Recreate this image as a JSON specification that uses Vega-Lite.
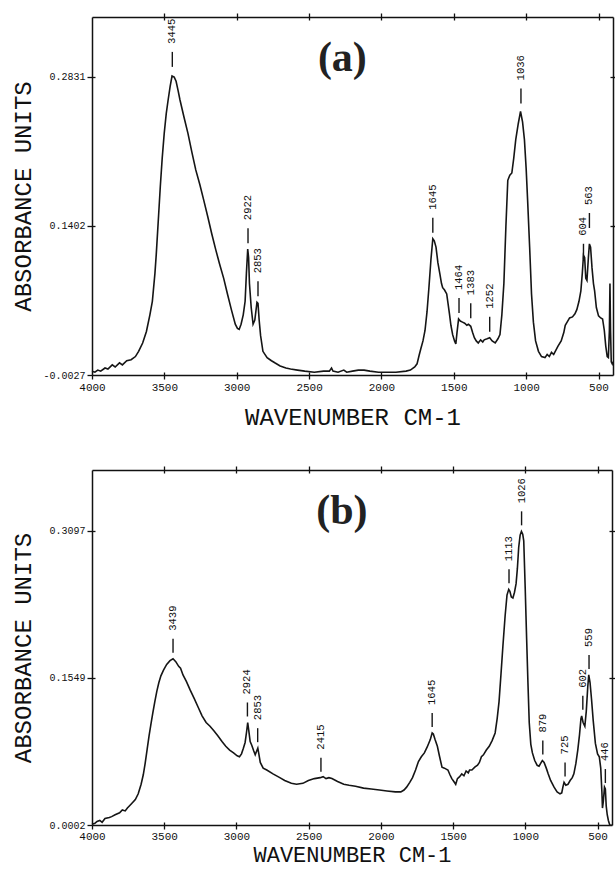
{
  "$schema": "https://vega.github.io/schema/vega-lite/v6.json",
  "background": "white",
  "padding": {"left": 11, "top": 12, "right": 4, "bottom": 2},
  "spacing": 95,
  "bounds": "flush",
  "config": {
    "view": {"stroke": null},
    "axis": {
      "grid": false,
      "domainColor": "#111",
      "domainWidth": 1.5,
      "tickColor": "#111",
      "tickWidth": 1.3,
      "labelFont": "Liberation Mono",
      "labelFontSize": 10,
      "labelColor": "#111",
      "labelFlush": false,
      "labelOverlap": false,
      "labelBound": false,
      "titleFont": "Liberation Mono",
      "titleFontSize": 24,
      "titleFontWeight": "normal",
      "titleColor": "#111"
    }
  },
  "datasets": {
    "specA": [
      {"wn":4000,"A":0.001},{"wn":3980,"A":0.000},{"wn":3960,"A":0.002},{"wn":3940,"A":0.001},{"wn":3910,"A":0.004},{"wn":3890,"A":0.003},{"wn":3860,"A":0.007},{"wn":3840,"A":0.005},{"wn":3810,"A":0.009},{"wn":3790,"A":0.007},{"wn":3760,"A":0.011},{"wn":3730,"A":0.012},{"wn":3700,"A":0.015},{"wn":3678,"A":0.020},{"wn":3650,"A":0.028},{"wn":3624,"A":0.039},{"wn":3600,"A":0.055},{"wn":3583,"A":0.068},{"wn":3565,"A":0.095},{"wn":3556,"A":0.113},{"wn":3540,"A":0.150},{"wn":3528,"A":0.178},{"wn":3515,"A":0.205},{"wn":3501,"A":0.229},{"wn":3487,"A":0.248},{"wn":3474,"A":0.261},{"wn":3460,"A":0.274},{"wn":3447,"A":0.284},{"wn":3432,"A":0.283},{"wn":3419,"A":0.279},{"wn":3405,"A":0.270},{"wn":3392,"A":0.261},{"wn":3365,"A":0.245},{"wn":3337,"A":0.229},{"wn":3310,"A":0.211},{"wn":3283,"A":0.194},{"wn":3255,"A":0.180},{"wn":3228,"A":0.165},{"wn":3200,"A":0.149},{"wn":3173,"A":0.133},{"wn":3146,"A":0.118},{"wn":3119,"A":0.104},{"wn":3090,"A":0.090},{"wn":3064,"A":0.075},{"wn":3037,"A":0.060},{"wn":3010,"A":0.046},{"wn":2995,"A":0.042},{"wn":2983,"A":0.041},{"wn":2970,"A":0.046},{"wn":2955,"A":0.055},{"wn":2942,"A":0.068},{"wn":2933,"A":0.095},{"wn":2924,"A":0.118},{"wn":2918,"A":0.110},{"wn":2912,"A":0.085},{"wn":2900,"A":0.062},{"wn":2887,"A":0.046},{"wn":2875,"A":0.050},{"wn":2860,"A":0.067},{"wn":2853,"A":0.066},{"wn":2845,"A":0.050},{"wn":2835,"A":0.035},{"wn":2819,"A":0.020},{"wn":2790,"A":0.014},{"wn":2760,"A":0.011},{"wn":2737,"A":0.009},{"wn":2700,"A":0.006},{"wn":2660,"A":0.004},{"wn":2628,"A":0.003},{"wn":2580,"A":0.002},{"wn":2530,"A":0.001},{"wn":2464,"A":0.000},{"wn":2400,"A":0.001},{"wn":2360,"A":0.001},{"wn":2345,"A":0.004},{"wn":2335,"A":0.001},{"wn":2300,"A":0.000},{"wn":2260,"A":0.002},{"wn":2240,"A":0.000},{"wn":2200,"A":0.001},{"wn":2160,"A":0.002},{"wn":2120,"A":0.002},{"wn":2080,"A":0.001},{"wn":2020,"A":0.000},{"wn":1973,"A":0.000},{"wn":1900,"A":0.000},{"wn":1830,"A":0.001},{"wn":1800,"A":0.002},{"wn":1770,"A":0.005},{"wn":1754,"A":0.008},{"wn":1740,"A":0.016},{"wn":1727,"A":0.023},{"wn":1713,"A":0.030},{"wn":1699,"A":0.040},{"wn":1685,"A":0.058},{"wn":1672,"A":0.081},{"wn":1658,"A":0.108},{"wn":1645,"A":0.128},{"wn":1635,"A":0.126},{"wn":1623,"A":0.120},{"wn":1610,"A":0.105},{"wn":1596,"A":0.094},{"wn":1585,"A":0.085},{"wn":1577,"A":0.081},{"wn":1565,"A":0.079},{"wn":1549,"A":0.075},{"wn":1540,"A":0.066},{"wn":1530,"A":0.056},{"wn":1520,"A":0.045},{"wn":1508,"A":0.036},{"wn":1495,"A":0.030},{"wn":1486,"A":0.027},{"wn":1478,"A":0.038},{"wn":1467,"A":0.051},{"wn":1455,"A":0.049},{"wn":1440,"A":0.048},{"wn":1425,"A":0.047},{"wn":1410,"A":0.045},{"wn":1399,"A":0.046},{"wn":1383,"A":0.044},{"wn":1370,"A":0.038},{"wn":1358,"A":0.033},{"wn":1345,"A":0.030},{"wn":1331,"A":0.028},{"wn":1315,"A":0.031},{"wn":1300,"A":0.029},{"wn":1290,"A":0.031},{"wn":1270,"A":0.032},{"wn":1252,"A":0.033},{"wn":1235,"A":0.030},{"wn":1214,"A":0.028},{"wn":1195,"A":0.032},{"wn":1181,"A":0.036},{"wn":1168,"A":0.055},{"wn":1154,"A":0.085},{"wn":1140,"A":0.140},{"wn":1127,"A":0.184},{"wn":1113,"A":0.189},{"wn":1099,"A":0.191},{"wn":1086,"A":0.205},{"wn":1072,"A":0.223},{"wn":1055,"A":0.238},{"wn":1039,"A":0.250},{"wn":1025,"A":0.240},{"wn":1012,"A":0.223},{"wn":1000,"A":0.195},{"wn":990,"A":0.165},{"wn":976,"A":0.120},{"wn":963,"A":0.075},{"wn":950,"A":0.048},{"wn":935,"A":0.030},{"wn":915,"A":0.020},{"wn":894,"A":0.015},{"wn":870,"A":0.014},{"wn":855,"A":0.017},{"wn":840,"A":0.015},{"wn":825,"A":0.019},{"wn":810,"A":0.017},{"wn":799,"A":0.020},{"wn":780,"A":0.025},{"wn":758,"A":0.030},{"wn":740,"A":0.038},{"wn":730,"A":0.045},{"wn":717,"A":0.048},{"wn":700,"A":0.052},{"wn":680,"A":0.053},{"wn":663,"A":0.056},{"wn":650,"A":0.060},{"wn":635,"A":0.068},{"wn":622,"A":0.078},{"wn":612,"A":0.095},{"wn":604,"A":0.112},{"wn":596,"A":0.110},{"wn":588,"A":0.090},{"wn":580,"A":0.088},{"wn":570,"A":0.110},{"wn":563,"A":0.123},{"wn":555,"A":0.120},{"wn":545,"A":0.100},{"wn":535,"A":0.085},{"wn":527,"A":0.078},{"wn":515,"A":0.062},{"wn":500,"A":0.054},{"wn":485,"A":0.052},{"wn":472,"A":0.051},{"wn":460,"A":0.040},{"wn":450,"A":0.025},{"wn":440,"A":0.015},{"wn":432,"A":0.014},{"wn":425,"A":0.040},{"wn":421,"A":0.085},{"wn":417,"A":0.040},{"wn":412,"A":0.010},{"wn":405,"A":0.008},{"wn":400,"A":0.010}
    ],
    "specB": [
      {"wn":4000,"A":0.001},{"wn":3980,"A":0.002},{"wn":3965,"A":0.004},{"wn":3946,"A":0.005},{"wn":3930,"A":0.003},{"wn":3910,"A":0.007},{"wn":3880,"A":0.008},{"wn":3864,"A":0.009},{"wn":3840,"A":0.011},{"wn":3809,"A":0.013},{"wn":3790,"A":0.016},{"wn":3770,"A":0.015},{"wn":3755,"A":0.018},{"wn":3730,"A":0.022},{"wn":3700,"A":0.027},{"wn":3680,"A":0.033},{"wn":3660,"A":0.043},{"wn":3645,"A":0.053},{"wn":3632,"A":0.065},{"wn":3618,"A":0.080},{"wn":3605,"A":0.094},{"wn":3590,"A":0.108},{"wn":3578,"A":0.119},{"wn":3565,"A":0.130},{"wn":3551,"A":0.141},{"wn":3537,"A":0.150},{"wn":3523,"A":0.157},{"wn":3505,"A":0.163},{"wn":3483,"A":0.169},{"wn":3460,"A":0.173},{"wn":3439,"A":0.175},{"wn":3420,"A":0.172},{"wn":3400,"A":0.167},{"wn":3387,"A":0.165},{"wn":3370,"A":0.158},{"wn":3346,"A":0.151},{"wn":3320,"A":0.142},{"wn":3292,"A":0.133},{"wn":3265,"A":0.124},{"wn":3238,"A":0.115},{"wn":3210,"A":0.108},{"wn":3183,"A":0.104},{"wn":3155,"A":0.099},{"wn":3129,"A":0.094},{"wn":3100,"A":0.088},{"wn":3074,"A":0.083},{"wn":3047,"A":0.079},{"wn":3020,"A":0.076},{"wn":2995,"A":0.073},{"wn":2979,"A":0.072},{"wn":2965,"A":0.075},{"wn":2952,"A":0.081},{"wn":2940,"A":0.087},{"wn":2930,"A":0.098},{"wn":2922,"A":0.108},{"wn":2915,"A":0.100},{"wn":2905,"A":0.088},{"wn":2894,"A":0.084},{"wn":2880,"A":0.078},{"wn":2870,"A":0.074},{"wn":2860,"A":0.078},{"wn":2852,"A":0.081},{"wn":2845,"A":0.075},{"wn":2835,"A":0.066},{"wn":2815,"A":0.060},{"wn":2790,"A":0.058},{"wn":2747,"A":0.054},{"wn":2700,"A":0.050},{"wn":2666,"A":0.047},{"wn":2620,"A":0.044},{"wn":2584,"A":0.043},{"wn":2540,"A":0.044},{"wn":2502,"A":0.047},{"wn":2460,"A":0.049},{"wn":2420,"A":0.050},{"wn":2400,"A":0.051},{"wn":2380,"A":0.049},{"wn":2360,"A":0.050},{"wn":2339,"A":0.049},{"wn":2300,"A":0.046},{"wn":2257,"A":0.043},{"wn":2220,"A":0.042},{"wn":2176,"A":0.041},{"wn":2120,"A":0.039},{"wn":2067,"A":0.038},{"wn":2010,"A":0.037},{"wn":1958,"A":0.036},{"wn":1900,"A":0.035},{"wn":1862,"A":0.035},{"wn":1840,"A":0.037},{"wn":1822,"A":0.040},{"wn":1800,"A":0.045},{"wn":1781,"A":0.050},{"wn":1760,"A":0.058},{"wn":1740,"A":0.067},{"wn":1720,"A":0.072},{"wn":1699,"A":0.076},{"wn":1680,"A":0.082},{"wn":1658,"A":0.090},{"wn":1645,"A":0.097},{"wn":1637,"A":0.096},{"wn":1625,"A":0.090},{"wn":1609,"A":0.083},{"wn":1595,"A":0.073},{"wn":1577,"A":0.061},{"wn":1560,"A":0.060},{"wn":1548,"A":0.059},{"wn":1536,"A":0.058},{"wn":1522,"A":0.053},{"wn":1509,"A":0.049},{"wn":1495,"A":0.046},{"wn":1482,"A":0.043},{"wn":1470,"A":0.049},{"wn":1455,"A":0.051},{"wn":1440,"A":0.054},{"wn":1425,"A":0.052},{"wn":1410,"A":0.057},{"wn":1395,"A":0.055},{"wn":1386,"A":0.058},{"wn":1370,"A":0.058},{"wn":1350,"A":0.061},{"wn":1331,"A":0.063},{"wn":1318,"A":0.066},{"wn":1304,"A":0.072},{"wn":1290,"A":0.074},{"wn":1270,"A":0.079},{"wn":1250,"A":0.083},{"wn":1230,"A":0.089},{"wn":1209,"A":0.097},{"wn":1195,"A":0.112},{"wn":1182,"A":0.130},{"wn":1168,"A":0.160},{"wn":1155,"A":0.189},{"wn":1140,"A":0.220},{"wn":1127,"A":0.242},{"wn":1115,"A":0.248},{"wn":1107,"A":0.246},{"wn":1097,"A":0.240},{"wn":1086,"A":0.239},{"wn":1075,"A":0.245},{"wn":1064,"A":0.254},{"wn":1055,"A":0.270},{"wn":1046,"A":0.292},{"wn":1036,"A":0.305},{"wn":1027,"A":0.309},{"wn":1018,"A":0.306},{"wn":1011,"A":0.299},{"wn":1001,"A":0.250},{"wn":991,"A":0.196},{"wn":982,"A":0.150},{"wn":973,"A":0.108},{"wn":962,"A":0.085},{"wn":951,"A":0.076},{"wn":935,"A":0.068},{"wn":918,"A":0.063},{"wn":905,"A":0.062},{"wn":890,"A":0.066},{"wn":882,"A":0.068},{"wn":870,"A":0.066},{"wn":855,"A":0.060},{"wn":842,"A":0.054},{"wn":825,"A":0.047},{"wn":801,"A":0.040},{"wn":780,"A":0.035},{"wn":760,"A":0.033},{"wn":748,"A":0.034},{"wn":740,"A":0.040},{"wn":732,"A":0.045},{"wn":720,"A":0.042},{"wn":705,"A":0.043},{"wn":690,"A":0.047},{"wn":675,"A":0.050},{"wn":664,"A":0.054},{"wn":650,"A":0.065},{"wn":637,"A":0.079},{"wn":625,"A":0.095},{"wn":615,"A":0.112},{"wn":610,"A":0.115},{"wn":600,"A":0.108},{"wn":588,"A":0.104},{"wn":578,"A":0.120},{"wn":568,"A":0.145},{"wn":561,"A":0.158},{"wn":552,"A":0.150},{"wn":542,"A":0.133},{"wn":530,"A":0.110},{"wn":515,"A":0.086},{"wn":500,"A":0.075},{"wn":488,"A":0.072},{"wn":478,"A":0.060},{"wn":470,"A":0.035},{"wn":466,"A":0.018},{"wn":460,"A":0.025},{"wn":452,"A":0.040},{"wn":446,"A":0.038},{"wn":440,"A":0.020},{"wn":433,"A":0.011},{"wn":425,"A":0.005},{"wn":415,"A":0.000},{"wn":400,"A":0.000}
    ],
    "peaksA": [
      {"wn":3445,"A":0.287,"label":"3445"},{"wn":2922,"A":0.118,"label":"2922"},{"wn":2853,"A":0.067,"label":"2853"},{"wn":1645,"A":0.128,"label":"1645"},{"wn":1464,"A":0.051,"label":"1464"},{"wn":1383,"A":0.046,"label":"1383"},{"wn":1252,"A":0.033,"label":"1252"},{"wn":1036,"A":0.252,"label":"1036"},{"wn":604,"A":0.103,"label":"604"},{"wn":563,"A":0.1325,"label":"563"}
    ],
    "peaksB": [
      {"wn":3439,"A":0.175,"label":"3439"},{"wn":2924,"A":0.108,"label":"2924"},{"wn":2853,"A":0.081,"label":"2853"},{"wn":2415,"A":0.050,"label":"2415"},{"wn":1645,"A":0.097,"label":"1645"},{"wn":1113,"A":0.248,"label":"1113"},{"wn":1026,"A":0.309,"label":"1026"},{"wn":879,"A":0.068,"label":"879"},{"wn":725,"A":0.045,"label":"725"},{"wn":602,"A":0.115,"label":"602"},{"wn":559,"A":0.158,"label":"559"},{"wn":446,"A":0.038,"label":"446"}
    ]
  },
  "vconcat": [
    {
      "width": 521,
      "height": 358,
      "resolve": {"axis": {"x": "independent", "y": "independent"}},
      "layer": [
        {
          "data": {"name": "specA"},
          "mark": {"type": "line", "color": "#151515", "strokeWidth": 1.6, "interpolate": "linear"},
          "encoding": {
            "x": {"field": "wn", "type": "quantitative", "scale": {"domain": [400, 4000], "reverse": true, "nice": false, "zero": false},
              "axis": {"orient": "bottom", "values": [4000,3500,3000,2500,2000,1500,1000,500], "format": "d", "title": "WAVENUMBER CM-1", "tickSize": 4, "labelPadding": 2, "labelFontSize": 11, "titlePadding": 13}},
            "y": {"field": "A", "type": "quantitative", "scale": {"domain": [-0.0027, 0.3406], "nice": false, "zero": false},
              "axis": {"orient": "left", "values": [-0.0027, 0.1402, 0.2831], "labelExpr": "datum.value < 0 ? '-' + format(-datum.value, '.4f') : format(datum.value, '.4f')", "title": "ABSORBANCE UNITS", "tickSize": 5, "labelPadding": 2, "titlePadding": 7}}
          }
        },
        {
          "data": {"name": "peaksA"},
          "mark": {"type": "point", "opacity": 0},
          "encoding": {
            "x": {"field": "wn", "type": "quantitative", "axis": {"orient": "top", "values": [3500,3000,2500,2000,1500,1000,500], "labels": false, "title": null, "tickSize": 4}},
            "y": {"field": "A", "type": "quantitative", "axis": {"orient": "right", "values": [0.1402, 0.2831], "labels": false, "title": null, "tickSize": 4}}
          }
        },
        {
          "data": {"name": "peaksA"},
          "mark": {"type": "point", "opacity": 0},
          "encoding": {
            "x": {"field": "wn", "type": "quantitative", "axis": {"orient": "bottom", "values": [3500,3000,2500,2000,1500,1000,500], "labels": false, "title": null, "domain": false, "tickSize": -3}},
            "y": {"field": "A", "type": "quantitative", "axis": {"orient": "left", "values": [0.1402, 0.2831], "labels": false, "title": null, "domain": false, "tickSize": -3}}
          }
        },
        {
          "data": {"name": "peaksA"},
          "mark": {"type": "point", "opacity": 0},
          "encoding": {
            "x": {"field": "wn", "type": "quantitative", "axis": {"orient": "top", "values": [3500,3000,2500,2000,1500,1000,500], "labels": false, "title": null, "domain": false, "tickSize": -3}},
            "y": {"field": "A", "type": "quantitative", "axis": {"orient": "right", "values": [0.1402, 0.2831], "labels": false, "title": null, "domain": false, "tickSize": -3}}
          }
        },
        {
          "data": {"name": "peaksA"},
          "mark": {"type": "rule", "color": "#151515", "strokeWidth": 1.4, "yOffset": -6, "y2Offset": -21},
          "encoding": {
            "x": {"field": "wn", "type": "quantitative", "axis": null},
            "y": {"field": "A", "type": "quantitative", "axis": null},
            "y2": {"field": "A"}
          }
        },
        {
          "data": {"name": "peaksA"},
          "mark": {"type": "text", "angle": 270, "align": "left", "baseline": "middle", "font": "Liberation Mono", "fontSize": 10.5, "color": "#111", "yOffset": -29},
          "encoding": {
            "x": {"field": "wn", "type": "quantitative", "axis": null},
            "y": {"field": "A", "type": "quantitative", "axis": null},
            "text": {"field": "label"}
          }
        },
        {
          "data": {"values": [{}]},
          "mark": {"type": "text", "font": "Liberation Serif", "fontSize": 42, "fontWeight": "bold", "color": "#222", "align": "center", "baseline": "middle"},
          "encoding": {
            "x": {"datum": 2270, "type": "quantitative", "axis": null},
            "y": {"datum": 0.301, "type": "quantitative", "axis": null},
            "text": {"value": "(a)"}
          }
        }
      ]
    },
    {
      "width": 520,
      "height": 355,
      "resolve": {"axis": {"x": "independent", "y": "independent"}},
      "layer": [
        {
          "data": {"name": "specB"},
          "mark": {"type": "line", "color": "#151515", "strokeWidth": 1.6, "interpolate": "linear"},
          "encoding": {
            "x": {"field": "wn", "type": "quantitative", "scale": {"domain": [400, 4000], "reverse": true, "nice": false, "zero": false},
              "axis": {"orient": "bottom", "values": [4000,3500,3000,2500,2000,1500,1000,500], "format": "d", "title": "WAVENUMBER CM-1", "tickSize": 4, "labelPadding": 1, "labelFontSize": 11, "titlePadding": 3, "titleFontSize": 22}},
            "y": {"field": "A", "type": "quantitative", "scale": {"domain": [0.0002, 0.3735], "nice": false, "zero": false},
              "axis": {"orient": "left", "values": [0.0002, 0.1549, 0.3097], "format": ".4f", "title": "ABSORBANCE UNITS", "tickSize": 5, "labelPadding": 2, "titlePadding": 13}}
          }
        },
        {
          "data": {"name": "peaksB"},
          "mark": {"type": "point", "opacity": 0},
          "encoding": {
            "x": {"field": "wn", "type": "quantitative", "axis": {"orient": "top", "values": [3500,3000,2500,2000,1500,1000,500], "labels": false, "title": null, "tickSize": 4}},
            "y": {"field": "A", "type": "quantitative", "axis": {"orient": "right", "values": [0.1549, 0.3097], "labels": false, "title": null, "tickSize": 4}}
          }
        },
        {
          "data": {"name": "peaksB"},
          "mark": {"type": "point", "opacity": 0},
          "encoding": {
            "x": {"field": "wn", "type": "quantitative", "axis": {"orient": "bottom", "values": [3500,3000,2500,2000,1500,1000,500], "labels": false, "title": null, "domain": false, "tickSize": -3}},
            "y": {"field": "A", "type": "quantitative", "axis": {"orient": "left", "values": [0.1549, 0.3097], "labels": false, "title": null, "domain": false, "tickSize": -3}}
          }
        },
        {
          "data": {"name": "peaksB"},
          "mark": {"type": "point", "opacity": 0},
          "encoding": {
            "x": {"field": "wn", "type": "quantitative", "axis": {"orient": "top", "values": [3500,3000,2500,2000,1500,1000,500], "labels": false, "title": null, "domain": false, "tickSize": -3}},
            "y": {"field": "A", "type": "quantitative", "axis": {"orient": "right", "values": [0.1549, 0.3097], "labels": false, "title": null, "domain": false, "tickSize": -3}}
          }
        },
        {
          "data": {"name": "peaksB"},
          "mark": {"type": "rule", "color": "#151515", "strokeWidth": 1.4, "yOffset": -6, "y2Offset": -20},
          "encoding": {
            "x": {"field": "wn", "type": "quantitative", "axis": null},
            "y": {"field": "A", "type": "quantitative", "axis": null},
            "y2": {"field": "A"}
          }
        },
        {
          "data": {"name": "peaksB"},
          "mark": {"type": "text", "angle": 270, "align": "left", "baseline": "middle", "font": "Liberation Mono", "fontSize": 10.5, "color": "#111", "yOffset": -28},
          "encoding": {
            "x": {"field": "wn", "type": "quantitative", "axis": null},
            "y": {"field": "A", "type": "quantitative", "axis": null},
            "text": {"field": "label"}
          }
        },
        {
          "data": {"values": [{}]},
          "mark": {"type": "text", "font": "Liberation Serif", "fontSize": 42, "fontWeight": "bold", "color": "#222", "align": "center", "baseline": "middle"},
          "encoding": {
            "x": {"datum": 2270, "type": "quantitative", "axis": null},
            "y": {"datum": 0.330, "type": "quantitative", "axis": null},
            "text": {"value": "(b)"}
          }
        }
      ]
    }
  ]
}
